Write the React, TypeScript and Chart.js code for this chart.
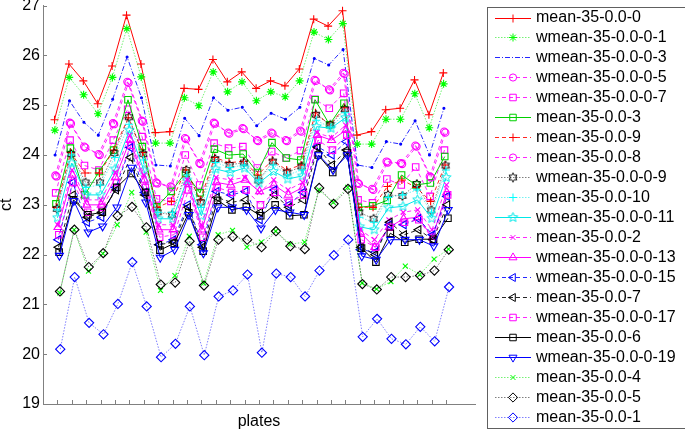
import React, { useEffect, useRef } from 'react';
import { Chart, registerables } from 'chart.js';
import { drawPoint } from 'chart.js/helpers';

Chart.register(...registerables);

// ---- data ----
const plateTicks = [1,2,3,4,5,6,7,8,9,10,11,12,13,14,15,16,17,18,19,20,21,22,23,24,25,26,27,28];
const yTickValues = [19, 20, 21, 22, 23, 24, 25, 26, 27];

const seriesLabels = [
  'mean-35-0.0-0', 'wmean-35-0.0-0-1', 'wmean-35-0.0-0-3', 'wmean-35-0.0-0-5', 'wmean-35-0.0-0-7',
  'mean-35-0.0-3', 'mean-35-0.0-9', 'mean-35-0.0-8', 'wmean-35-0.0-0-9', 'mean-35-0.0-10',
  'wmean-35-0.0-0-11', 'mean-35-0.0-2', 'wmean-35-0.0-0-13', 'wmean-35-0.0-0-15', 'mean-35-0.0-7',
  'wmean-35-0.0-0-17', 'mean-35-0.0-6', 'wmean-35-0.0-0-19', 'mean-35-0.0-4', 'mean-35-0.0-5', 'mean-35-0.0-1',
];

const mean0 = [24.71, 25.83, 25.49, 25.03, 25.79, 26.81, 25.83, 24.45, 24.47, 25.34, 25.32, 25.92, 25.47, 25.67, 25.34, 25.49, 25.39, 25.73, 26.73, 26.59, 26.90, 24.40, 24.47, 24.91, 24.94, 25.51, 24.81, 25.65];
const wmean1 = [24.50, 25.56, 25.21, 24.83, 25.56, 26.54, 25.57, 24.24, 24.24, 25.15, 24.99, 25.67, 25.27, 25.47, 25.09, 25.27, 25.17, 25.49, 26.47, 26.32, 26.64, 24.22, 24.22, 24.72, 24.72, 25.23, 24.55, 25.43];
const wmean3 = [24.00, 25.09, 24.66, 24.40, 25.12, 25.97, 25.15, 23.80, 23.78, 24.74, 24.39, 25.15, 24.90, 24.96, 24.59, 24.84, 24.72, 24.96, 25.94, 25.81, 26.12, 23.80, 23.75, 24.27, 24.22, 24.69, 24.00, 24.94];
const wmean5 = [23.59, 24.65, 24.17, 24.02, 24.64, 25.47, 24.69, 23.45, 23.37, 24.34, 23.84, 24.65, 24.45, 24.54, 24.30, 24.45, 24.30, 24.49, 25.51, 25.32, 25.65, 23.44, 23.32, 23.87, 23.84, 24.19, 23.57, 24.47];
const wmean7 = [23.24, 24.30, 23.79, 23.70, 24.30, 24.92, 24.37, 23.12, 23.07, 24.00, 23.40, 24.24, 24.14, 24.17, 23.74, 24.07, 23.94, 24.09, 25.12, 24.94, 25.24, 23.10, 23.04, 23.52, 23.40, 23.76, 23.17, 24.10];
const mean3 = [23.02, 24.14, 23.20, 23.67, 24.10, 25.11, 24.17, 22.96, 23.27, 23.64, 23.24, 24.12, 24.00, 24.02, 23.65, 24.25, 23.94, 23.90, 25.11, 24.61, 25.04, 22.95, 22.98, 23.09, 23.60, 23.40, 23.44, 23.97];
const mean9 = [22.95, 24.05, 23.64, 23.64, 24.10, 24.75, 24.05, 22.95, 23.07, 23.70, 23.10, 23.95, 23.85, 23.87, 23.60, 23.90, 23.70, 23.80, 24.85, 24.60, 24.95, 22.95, 22.95, 23.37, 23.50, 23.35, 23.07, 23.80];
const mean8 = [23.57, 24.63, 24.15, 24.00, 24.62, 25.45, 24.67, 23.43, 23.35, 24.32, 23.82, 24.63, 24.43, 24.52, 24.28, 24.43, 24.28, 24.47, 25.49, 25.30, 25.63, 23.42, 23.30, 23.85, 23.82, 24.17, 23.55, 24.45];
const wmean9 = [22.92, 24.02, 23.45, 23.45, 24.04, 24.76, 24.02, 22.85, 22.80, 23.70, 23.05, 23.92, 23.80, 23.85, 23.49, 23.87, 23.65, 23.77, 24.81, 24.61, 24.92, 22.85, 22.72, 23.20, 23.18, 23.42, 22.89, 23.79];
const mean10 = [22.90, 24.00, 23.35, 23.40, 23.95, 24.62, 23.90, 22.85, 22.85, 23.60, 22.95, 23.85, 23.75, 23.80, 23.50, 23.80, 23.60, 23.70, 24.70, 24.55, 24.85, 22.75, 22.65, 23.15, 23.20, 23.30, 22.85, 23.70];
const wmean11 = [22.74, 23.84, 23.20, 23.20, 23.72, 24.50, 23.70, 22.72, 22.72, 23.50, 22.78, 23.72, 23.65, 23.74, 23.44, 23.67, 23.52, 23.58, 24.57, 24.54, 24.75, 22.56, 22.50, 22.94, 22.97, 23.10, 22.73, 23.55];
const mean2 = [22.60, 23.70, 23.10, 23.10, 23.65, 24.40, 23.60, 22.60, 22.60, 23.50, 22.60, 23.55, 23.50, 23.55, 23.25, 23.50, 23.30, 23.45, 24.45, 24.35, 24.60, 22.50, 22.30, 22.70, 22.85, 22.90, 22.50, 23.40];
const wmean13 = [22.55, 23.60, 23.00, 23.00, 23.55, 24.30, 23.50, 22.50, 22.50, 23.45, 22.50, 23.45, 23.40, 23.50, 23.27, 23.40, 23.20, 23.35, 24.40, 24.30, 24.50, 22.44, 22.15, 22.55, 22.72, 22.75, 22.35, 23.25];
const wmean15 = [22.30, 23.45, 22.65, 22.75, 23.35, 24.15, 23.25, 22.20, 22.30, 23.00, 22.20, 23.27, 23.20, 23.27, 22.70, 23.30, 23.00, 23.25, 24.17, 24.00, 24.27, 22.10, 22.05, 22.60, 22.60, 22.72, 22.40, 23.17];
const mean7 = [22.15, 23.20, 22.75, 22.85, 23.30, 23.95, 23.20, 22.20, 22.25, 22.95, 22.15, 23.15, 23.05, 23.10, 22.85, 23.20, 22.95, 23.10, 24.15, 23.80, 24.10, 22.15, 22.00, 22.65, 22.40, 22.50, 22.30, 23.00];
const wmean17 = [22.40, 23.45, 22.85, 22.95, 23.45, 24.20, 23.35, 22.35, 22.40, 23.30, 22.35, 23.35, 23.25, 23.30, 23.00, 23.25, 23.05, 23.20, 24.30, 24.10, 24.40, 22.30, 22.15, 22.55, 22.65, 22.70, 22.30, 23.20];
const mean6 = [22.05, 23.10, 22.80, 22.85, 23.35, 23.63, 23.25, 22.09, 22.23, 22.84, 22.07, 23.09, 22.90, 22.96, 22.78, 23.00, 22.78, 22.80, 24.00, 23.65, 24.05, 22.13, 21.85, 22.43, 22.25, 22.31, 22.31, 22.73];
const wmean19 = [21.98, 23.08, 22.45, 22.57, 22.95, 23.75, 23.05, 21.94, 22.10, 22.80, 22.03, 22.95, 22.95, 22.90, 22.53, 22.90, 22.85, 22.80, 24.00, 23.70, 24.00, 21.97, 21.90, 22.30, 22.30, 22.30, 22.17, 22.90];
const mean4 = [21.23, 22.50, 21.67, 22.02, 22.60, 23.25, 22.45, 21.28, 21.58, 22.37, 21.43, 22.40, 22.49, 22.15, 22.25, 22.47, 22.21, 22.25, 23.30, 23.05, 23.35, 21.43, 21.31, 21.46, 21.77, 21.60, 21.91, 22.11];
const mean5 = [21.26, 22.50, 21.75, 22.03, 22.78, 22.96, 22.55, 21.40, 21.44, 22.27, 21.38, 22.30, 22.36, 22.30, 22.15, 22.47, 22.17, 22.11, 23.34, 23.02, 23.32, 21.41, 21.30, 21.55, 21.55, 21.58, 21.68, 22.10];
const mean1 = [20.10, 21.55, 20.63, 20.40, 21.01, 21.85, 20.96, 19.94, 20.21, 20.96, 19.98, 21.16, 21.28, 21.60, 20.03, 21.62, 21.55, 21.16, 21.68, 21.99, 22.30, 20.35, 20.71, 20.31, 20.20, 20.55, 20.26, 21.35];

const seriesValues = [
  mean0, wmean1, wmean3, wmean5, wmean7, mean3, mean9, mean8, wmean9, mean10,
  wmean11, mean2, wmean13, wmean15, mean7, wmean17, mean6, wmean19, mean4, mean5, mean1,
];

// ---- styles ----
const DOT = [1.5, 1.5];
const DASH = [4, 3];
const DASHDOT = [5, 2, 1, 2];
type St = { color: string; line: string; dash: number[]; marker: string; r: number; rot?: number };
const styles: St[] = [
  { color: '#ff0000', line: '#ff0000', dash: [], marker: 'cross', r: 4 },
  { color: '#00ff00', line: 'rgba(0,230,0,0.55)', dash: DOT, marker: 'star', r: 4 },
  { color: '#0000ff', line: 'rgba(0,0,255,0.85)', dash: DASHDOT, marker: 'dot', r: 1 },
  { color: '#ff00ff', line: 'rgba(255,0,255,0.85)', dash: DASH, marker: 'circle', r: 3.6 },
  { color: '#ff00ff', line: 'rgba(255,0,255,0.85)', dash: DASH, marker: 'rect', r: 4.6 },
  { color: '#00d000', line: '#00d000', dash: [], marker: 'rect', r: 4.6 },
  { color: '#ff0000', line: 'rgba(255,0,0,0.85)', dash: DASH, marker: 'cross', r: 4 },
  { color: '#ff00ff', line: 'rgba(255,0,255,0.85)', dash: DASH, marker: 'circle', r: 3.6 },
  { color: '#000000', line: 'rgba(0,0,0,0.5)', dash: DOT, marker: 'hexagram', r: 4 },
  { color: '#00ffff', line: 'rgba(0,230,230,0.55)', dash: DOT, marker: 'cross', r: 4 },
  { color: '#00e8e8', line: '#00e8e8', dash: [], marker: 'pentagram', r: 4 },
  { color: '#ff00ff', line: 'rgba(255,0,255,0.85)', dash: DASH, marker: 'crossRot', r: 3.5 },
  { color: '#ff00ff', line: '#ff00ff', dash: [], marker: 'triangle', r: 4.6 },
  { color: '#0000ff', line: 'rgba(0,0,255,0.85)', dash: DASH, marker: 'triangle', r: 4.6, rot: 270 },
  { color: '#000000', line: 'rgba(0,0,0,0.85)', dash: DASH, marker: 'triangle', r: 4.6, rot: 270 },
  { color: '#ff00ff', line: 'rgba(255,0,255,0.85)', dash: DASH, marker: 'rect', r: 4.6 },
  { color: '#000000', line: '#000000', dash: [], marker: 'rect', r: 4.6 },
  { color: '#0000ff', line: '#0000ff', dash: [], marker: 'triangle', r: 4.6, rot: 180 },
  { color: '#00ff00', line: 'rgba(0,230,0,0.55)', dash: DOT, marker: 'crossRot', r: 3.5 },
  { color: '#000000', line: 'rgba(0,0,0,0.5)', dash: DOT, marker: 'rectRot', r: 4.6 },
  { color: '#0000ff', line: 'rgba(0,0,255,0.5)', dash: DOT, marker: 'rectRot', r: 4.6 },
];

const FONT = '"Liberation Sans", Arial, sans-serif';
const AXIS_COLOR = '#808080';

function makeStar(n: number, outer: number, innerRatio: number, color: string): HTMLCanvasElement {
  const size = Math.ceil(outer * 2 + 3);
  const c = document.createElement('canvas');
  c.width = size;
  c.height = size;
  const g = c.getContext('2d')!;
  const cx = size / 2, cy = size / 2;
  g.beginPath();
  for (let k = 0; k < n * 2; k++) {
    const rr = k % 2 === 0 ? outer : outer * innerRatio;
    const a = -Math.PI / 2 + (k * Math.PI) / n;
    const px = cx + rr * Math.cos(a), py = cy + rr * Math.sin(a);
    if (k === 0) g.moveTo(px, py); else g.lineTo(px, py);
  }
  g.closePath();
  g.strokeStyle = color;
  g.lineWidth = 1;
  g.stroke();
  return c;
}

function resolveStyle(s: St): any {
  if (s.marker === 'hexagram') return makeStar(6, s.r + 0.5, 0.58, s.color);
  if (s.marker === 'pentagram') return makeStar(5, s.r + 1, 0.45, s.color);
  if (s.marker === 'dot') return 'circle';
  return s.marker;
}

export default function App() {
  const ref = useRef<HTMLCanvasElement | null>(null);

  useEffect(() => {
    const canvas = ref.current;
    if (!canvas) return;
    const pstyles = styles.map(resolveStyle);

    const datasets = seriesValues.map((vals, i) => {
      const s = styles[i];
      const off = (i - 10) * 0.02;
      return {
        label: seriesLabels[i],
        data: vals.map((v, j) => ({ x: plateTicks[j] + off, y: v })),
        borderColor: s.line,
        backgroundColor: s.marker === 'dot' ? s.color : 'rgba(0,0,0,0)',
        borderWidth: 1,
        borderDash: s.dash,
        pointStyle: pstyles[i],
        pointRotation: s.rot || 0,
        pointRadius: s.r,
        pointBorderColor: s.color,
        pointBackgroundColor: s.marker === 'dot' ? s.color : 'rgba(0,0,0,0)',
        pointBorderWidth: 1.1,
        tension: 0,
        fill: false,
        order: -i,
      };
    });

    const decor = {
      id: 'decor',
      afterDraw(chart: any) {
        const ctx = chart.ctx;
        const xs = chart.scales.x;
        const ys = chart.scales.y;
        const area = chart.chartArea;
        ctx.save();
        // inward tick marks
        ctx.strokeStyle = AXIS_COLOR;
        ctx.lineWidth = 1;
        ctx.setLineDash([]);
        ctx.beginPath();
        for (const v of yTickValues) {
          const py = Math.round(ys.getPixelForValue(v)) + 0.5;
          ctx.moveTo(area.left, py);
          ctx.lineTo(area.left + 4, py);
        }
        for (const v of plateTicks) {
          const px = Math.round(xs.getPixelForValue(v)) + 0.5;
          ctx.moveTo(px, area.bottom);
          ctx.lineTo(px, area.bottom - 4);
        }
        ctx.stroke();

        // legend box
        const bx = 487, by = 7, bw = 205, bh = 421;
        ctx.fillStyle = '#ffffff';
        ctx.fillRect(bx, by, bw, bh);
        ctx.strokeStyle = '#606060';
        ctx.lineWidth = 1;
        ctx.strokeRect(bx + 0.5, by + 0.5, bw, bh);
        ctx.font = '16px ' + FONT;
        ctx.textBaseline = 'middle';
        ctx.textAlign = 'left';
        chart.data.datasets.forEach((ds: any, i: number) => {
          const s = styles[i];
          const cy = 17.5 + i * 19.97;
          ctx.save();
          ctx.strokeStyle = s.line;
          ctx.lineWidth = 1;
          ctx.setLineDash(s.dash);
          ctx.beginPath();
          ctx.moveTo(495, Math.round(cy) + 0.5);
          ctx.lineTo(531, Math.round(cy) + 0.5);
          ctx.stroke();
          ctx.setLineDash([]);
          ctx.strokeStyle = s.color;
          ctx.fillStyle = 'rgba(0,0,0,0)';
          if (s.marker !== 'dot') {
            drawPoint(ctx, { pointStyle: pstyles[i], rotation: s.rot || 0, radius: s.r, borderWidth: 1 } as any, 513, Math.round(cy) + 0.5);
          }
          ctx.restore();
          ctx.fillStyle = '#000000';
          ctx.fillText(ds.label, 536, cy + 0.5);
        });
        ctx.restore();
      },
    };

    const chart = new Chart(canvas, {
      type: 'line',
      data: { datasets } as any,
      options: {
        responsive: false,
        animation: false,
        events: [],
        layout: { padding: { left: 0, right: 210, top: 5.3, bottom: 0 } },
        plugins: { legend: { display: false }, tooltip: { enabled: false } },
        scales: {
          x: {
            type: 'linear',
            min: 0,
            max: 30,
            ticks: { display: false },
            grid: { display: true, drawOnChartArea: false, drawTicks: false },
            border: { display: true, color: AXIS_COLOR, width: 1 },
            title: { display: true, text: 'plates', color: '#000', font: { family: FONT, size: 16 }, padding: 0 },
            afterFit: (s: any) => { s.height = 27; s.paddingLeft = 0; s.paddingRight = 0; },
          },
          y: {
            type: 'linear',
            min: 19,
            max: 27,
            ticks: { stepSize: 1, color: '#000', font: { family: FONT, size: 16 }, padding: 3 },
            grid: { display: true, drawOnChartArea: false, drawTicks: false },
            border: { display: true, color: AXIS_COLOR, width: 1 },
            title: { display: true, text: 'ct', color: '#000', font: { family: FONT, size: 16 }, padding: { top: -3.5, bottom: 0 } },
            afterFit: (s: any) => { s.width = 43; s.paddingTop = 0; s.paddingBottom = 0; },
          },
        },
      } as any,
      plugins: [decor],
    });
    return () => chart.destroy();
  }, []);

  return (
    <div style={{ position: 'fixed', left: 0, top: 0, width: 685, height: 431, background: '#fff' }}>
      <canvas ref={ref} width={685} height={431} style={{ display: 'block' }} />
    </div>
  );
}
